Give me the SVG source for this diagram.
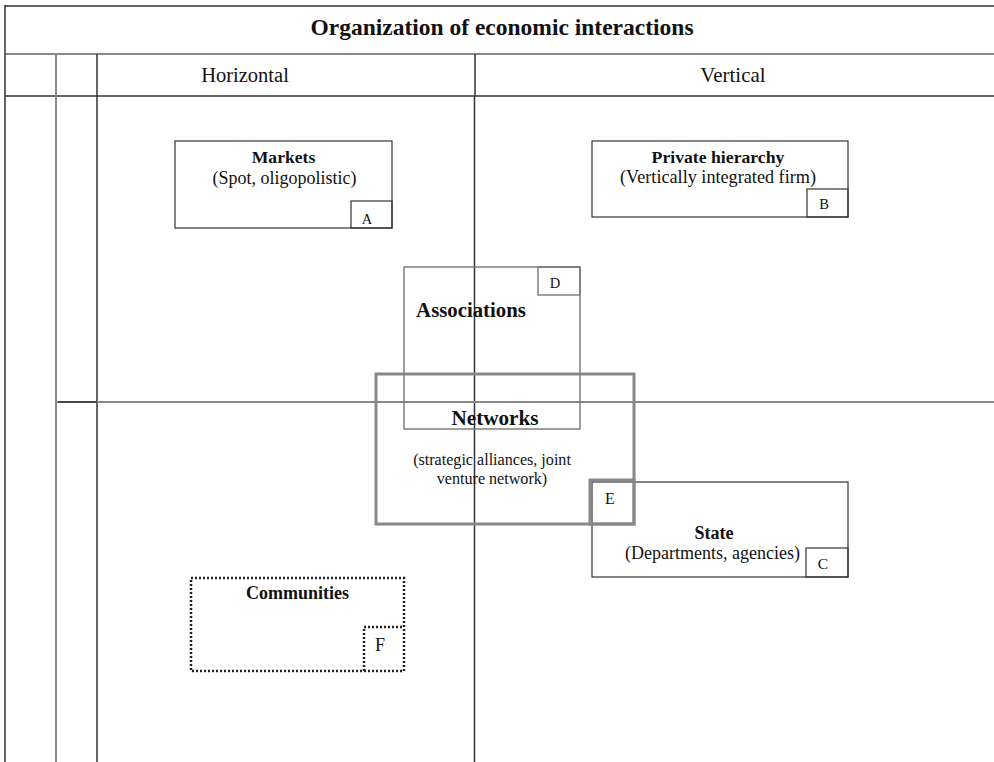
<svg xmlns="http://www.w3.org/2000/svg" width="994" height="762" viewBox="0 0 994 762">
<style>
text{font-family:"Liberation Serif","Times New Roman",serif;fill:#111;text-anchor:middle}
.b{font-weight:bold}
.box{fill:none;stroke:#333;stroke-width:1.2}
.grey{fill:none;stroke:#777;stroke-width:1.4}
.thick{fill:none;stroke:#888;stroke-width:3}
.dot{fill:none;stroke:#222;stroke-width:2.5;stroke-dasharray:2 2}
.ln{stroke:#333;stroke-width:1.5;fill:none}
.lg{stroke:#888;stroke-width:2;fill:none}
</style>
<rect width="994" height="762" fill="#fff"/>
<g id="grid">
<line class="ln" x1="5" y1="6" x2="994" y2="6" stroke-width="2"/>
<line class="lg" x1="5" y1="54" x2="994" y2="54"/>
<line class="ln" x1="5" y1="96" x2="994" y2="96" stroke-width="2"/>
<line class="ln" x1="5" y1="5" x2="5" y2="762" stroke-width="2"/>
<line class="lg" x1="56" y1="54" x2="56" y2="762"/>
<line class="ln" x1="97" y1="54" x2="97" y2="762"/>
<line class="ln" x1="475" y1="54" x2="475" y2="96" stroke-width="2.2"/>
<line class="ln" x1="474.5" y1="96" x2="474.5" y2="762"/>
<line class="lg" x1="57" y1="402" x2="994" y2="402"/>
<line class="ln" x1="58" y1="402" x2="97" y2="402" stroke-width="2"/>
<text class="b" x="502" y="35" font-size="23.5">Organization of economic interactions</text>
<text x="245" y="82" font-size="20.5">Horizontal</text>
<text x="733" y="82" font-size="21">Vertical</text>
</g>
<g id="markets">
<rect class="box" x="175" y="141" width="217" height="87"/>
<rect class="box" x="351" y="201" width="41" height="27"/>
<text class="b" x="283.5" y="163" font-size="17.6">Markets</text>
<text x="284.5" y="184" font-size="18">(Spot, oligopolistic)</text>
<text x="367" y="224" font-size="14.5">A</text>
</g>
<g id="private">
<rect class="box" x="592" y="141" width="256" height="76"/>
<rect class="box" x="807" y="189" width="41" height="28"/>
<text class="b" x="718" y="163" font-size="17.7">Private hierarchy</text>
<text x="718" y="183" font-size="18.2">(Vertically integrated firm)</text>
<text x="824" y="209" font-size="14.5">B</text>
</g>
<g id="associations">
<rect class="grey" x="404" y="267" width="176" height="162"/>
<rect class="grey" x="538" y="267" width="42" height="28"/>
<text class="b" x="471" y="317" font-size="20.8">Associations</text>
<text x="555" y="288" font-size="14.5">D</text>
</g>
<g id="state">
<rect class="box" x="592" y="482" width="256" height="95"/>
<rect class="box" x="806" y="548" width="42" height="29"/>
<text class="b" x="714" y="539" font-size="18">State</text>
<text x="712.5" y="559" font-size="18">(Departments, agencies)</text>
<text x="823" y="569" font-size="15.5">C</text>
</g>
<g id="networks">
<rect class="thick" x="376" y="374" width="258" height="150"/>
<rect class="thick" x="590" y="480" width="44" height="44"/>
<text class="b" x="495" y="425" font-size="21.2">Networks</text>
<text x="492" y="465" font-size="16.1">(strategic alliances, joint</text>
<text x="492" y="484" font-size="16.1">venture network)</text>
<text x="610" y="504" font-size="16">E</text>
</g>
<g id="communities">
<rect class="dot" x="191" y="578" width="213" height="93"/>
<path class="dot" d="M364 671 V627 H404"/>
<text class="b" x="297.5" y="599" font-size="18">Communities</text>
<text x="380" y="651" font-size="18">F</text>
</g>
<g id="connectors"/>
</svg>
